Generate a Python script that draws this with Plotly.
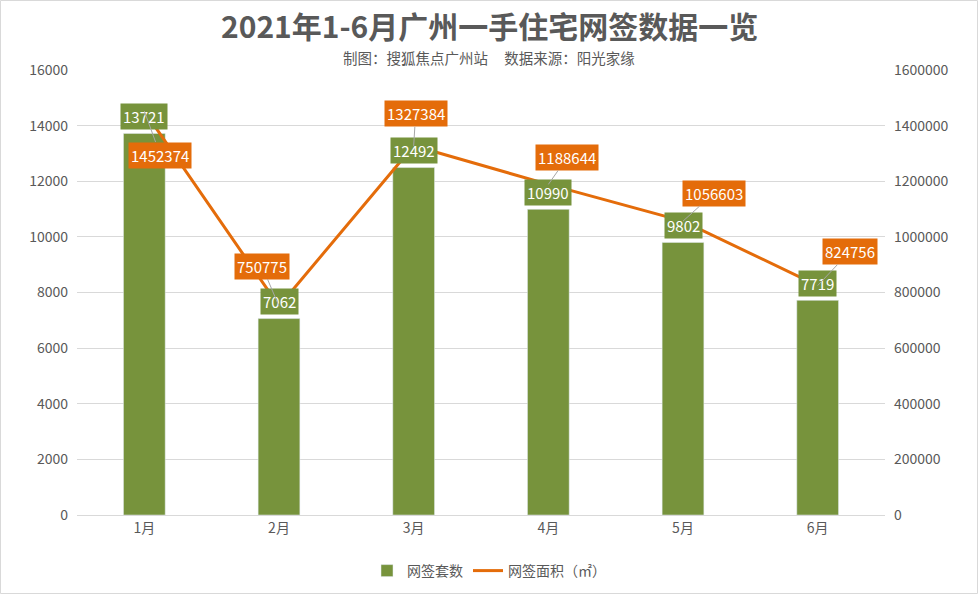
import plotly.graph_objects as go

months = ['1月', '2月', '3月', '4月', '5月', '6月']
units = [13721, 7062, 12492, 10990, 9802, 7719]
areas = [1452374, 750775, 1327384, 1188644, 1056603, 824756]

bar_color = '#77933C'
line_color = '#E46C0A'
text_color = '#595959'
grid_color = '#D9D9D9'
font_family = 'Noto Sans CJK SC, Microsoft YaHei, sans-serif'

# label box offsets (px) from the line points, like the hand-dragged Excel labels
area_label_offsets = [(16, 44), (-17, -40), (2, -32), (19, -27), (31, -28), (32, -34)]

fig = go.Figure()

fig.add_trace(go.Bar(
    x=months, y=units, name='网签套数',
    marker_color=bar_color, width=0.31,
))
fig.add_trace(go.Scatter(
    x=months, y=areas, name='网签面积（㎡）', yaxis='y2',
    mode='lines', line=dict(color=line_color, width=3),
))

annotations = []
for m, v in zip(months, units):
    annotations.append(dict(
        x=m, y=v, xref='x', yref='y', text=str(v), showarrow=False,
        yshift=17, bgcolor=bar_color, borderpad=2,
        font=dict(color='white', size=15, family=font_family),
    ))
for (m, v), (dx, dy) in zip(zip(months, areas), area_label_offsets):
    annotations.append(dict(
        x=m, y=v, xref='x', yref='y2', text=str(v), showarrow=True,
        ax=dx, ay=dy, arrowhead=0, arrowwidth=1, arrowcolor='#A6A6A6',
        bgcolor=line_color, borderpad=2,
        font=dict(color='white', size=15, family=font_family),
    ))

center_x = (489 - 77) / 808  # figure centre, in plot-paper units
annotations.append(dict(
    text='2021年1-6月广州一手住宅网签数据一览', xref='paper', yref='paper',
    x=center_x, y=(515 - 25) / 445, showarrow=False, yanchor='middle',
    font=dict(size=30, color=text_color, family=font_family, weight='bold'),
))
annotations.append(dict(
    text='制图：搜狐焦点广州站' + '&nbsp;' * 5 + '数据来源：阳光家缘',
    xref='paper', yref='paper',
    x=center_x, y=(515 - 57) / 445, showarrow=False, yanchor='middle',
    font=dict(size=14.5, color=text_color, family=font_family),
))

fig.update_layout(
    width=978, height=594,
    margin=dict(l=77, r=93, t=70, b=79),
    plot_bgcolor='white', paper_bgcolor='white',
    font=dict(family=font_family, color=text_color, size=14),
    showlegend=True,
    legend=dict(orientation='h', xref='container', x=0.5, xanchor='center',
                yref='container', y=1 - 571 / 594, yanchor='middle',
                font=dict(size=14, color=text_color), traceorder='normal'),
    xaxis=dict(showgrid=False, showline=True, linecolor=grid_color, ticks='',
               tickfont=dict(size=14, color=text_color)),
    yaxis=dict(range=[0, 16000], dtick=2000, gridcolor=grid_color, zeroline=False,
               tickformat='d', tickfont=dict(size=14, color=text_color),
               ticklabelstandoff=8),
    yaxis2=dict(range=[0, 1600000], dtick=200000, overlaying='y', side='right',
                showgrid=False, zeroline=False, tickformat='d',
                tickfont=dict(size=14, color=text_color), ticklabelstandoff=8),
    annotations=annotations,
    shapes=[dict(type='rect', xref='paper', yref='paper',
                 x0=-76.5 / 808, x1=(977.5 - 77) / 808,
                 y0=(515 - 593.5) / 445, y1=(515 - 0.5) / 445,
                 line=dict(color=grid_color, width=1), layer='below')],
)

# drop the page's default body margin so the figure sits at the window corner
fig.write_html('out.html', config={'displayModeBar': False},
               post_script="document.body.style.margin='0';")
